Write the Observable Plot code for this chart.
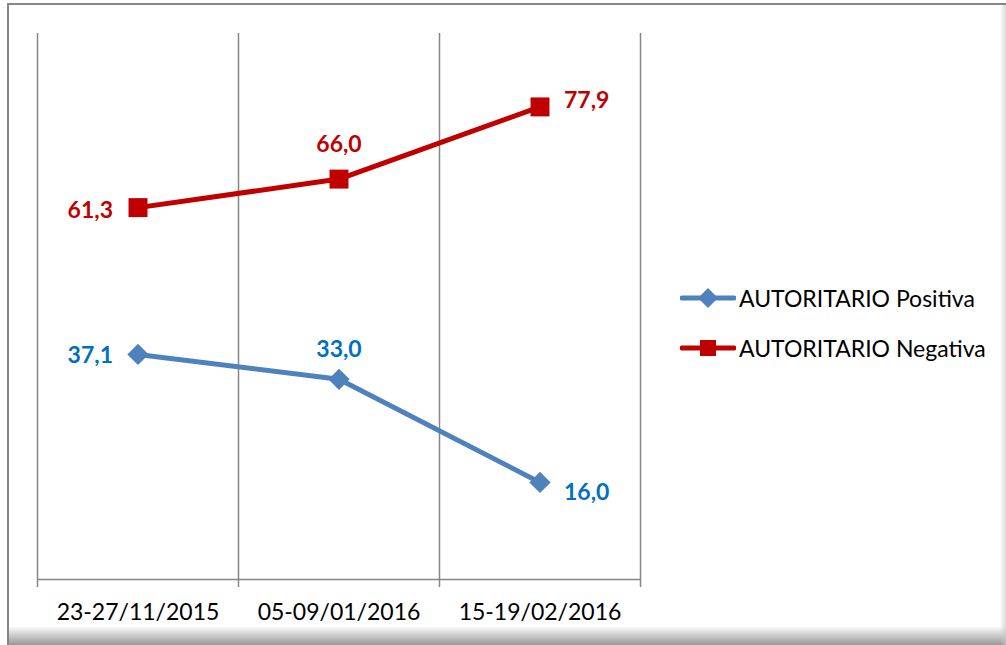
<!DOCTYPE html>
<html>
<head>
<meta charset="utf-8">
<script src="https://cdn.jsdelivr.net/npm/d3@7"></script>
<script src="https://cdn.jsdelivr.net/npm/@observablehq/plot@0.6"></script>
<style>
  html, body { margin: 0; padding: 0; background: #fff; }
  #wrap { position: relative; width: 1006px; height: 645px; overflow: hidden; font-family: Lato, "Liberation Sans", sans-serif; }
  #frame { position: absolute; left: 7px; top: 3px; right: 0; bottom: 0; border-top: 2px solid #868686; border-left: 2px solid #868686; }
  #shadowB { position: absolute; left: 9px; right: 0; top: 626px; height: 19px; background: linear-gradient(to bottom, rgba(255,255,255,0), rgba(140,140,140,0.9)); }
  #shadowR { position: absolute; top: 5px; right: 0; width: 6px; height: 640px; background: linear-gradient(to right, rgba(255,255,255,0), rgba(200,200,200,0.7)); }
  #chart { position: absolute; left: 0; top: 0; }
  #legend { position: absolute; left: 680px; top: 273px; font-size: 23px; color: #000; }
  .item { display: flex; align-items: center; height: 50px; margin-top: 0; }
  .item svg { margin-right: 3px; }
</style>
</head>
<body>
<div id="wrap">
  <div id="frame"></div>
  <div id="shadowB"></div>
  <div id="shadowR"></div>
  <div id="chart"></div>
  <div id="legend"></div>
</div>
<script>
const categories = ["23-27/11/2015", "05-09/01/2016", "15-19/02/2016"];
const seriesNames = ["AUTORITARIO Positiva", "AUTORITARIO Negativa"];
const positiva = [37.1, 33.0, 16.0];
const negativa = [61.3, 66.0, 77.9];
const lineColors = ["#4F81BD", "#C00000"];
const labelColors = ["#0070C0", "#C00000"];

const rows = [];
[positiva, negativa].forEach((vals, s) => {
  vals.forEach((v, i) => rows.push({series: seriesNames[s], s, i, pos: i + 0.5, value: v}));
});

const diamond = {
  draw(ctx, size) {
    const r = Math.sqrt(size) * 0.62625;
    ctx.moveTo(0, -r); ctx.lineTo(r, 0); ctx.lineTo(0, r); ctx.lineTo(-r, 0); ctx.closePath();
  }
};
const square = {
  draw(ctx, size) {
    const h = Math.sqrt(size) / 2;
    ctx.rect(-h, -h, 2 * h, 2 * h);
  }
};

const fmt = v => v.toFixed(1).replace(".", ",");
const labelFont = {fontFamily: "Lato, sans-serif", fontWeight: "bold", fontSize: 23};
const pick = (s, i) => rows.filter(d => d.s === s && d.i === i);

const plot = Plot.plot({
  width: 1006,
  height: 645,
  marginLeft: 37,
  marginRight: 366,
  marginTop: 33,
  marginBottom: 66,
  style: {background: "transparent", fontFamily: "Lato, sans-serif"},
  x: {type: "linear", domain: [0, categories.length], axis: null},
  y: {domain: [0, 90], axis: null},
  marks: [
    Plot.ruleX(d3.range(categories.length + 1), {y1: 0, y2: 90, stroke: "#868686", strokeWidth: 1.5}),
    Plot.ruleY([0], {stroke: "#868686", strokeWidth: 1.5}),
    Plot.axisX(d3.range(categories.length + 1), {tickSize: 8, tickFormat: () => "", stroke: "#868686", strokeWidth: 1.5, label: null}),
    Plot.axisX(categories.map((c, i) => i + 0.5), {tickSize: 0, tickPadding: 24, tickFormat: d => categories[Math.floor(d)], fontSize: 23, fill: "#000", stroke: null, label: null}),
    Plot.line(rows, {x: "pos", y: "value", z: "series", stroke: d => lineColors[d.s], strokeWidth: 5}),
    Plot.dot(rows.filter(d => d.s === 0), {x: "pos", y: "value", symbol: diamond, r: 9.6, fill: lineColors[0], stroke: null}),
    Plot.dot(rows.filter(d => d.s === 1), {x: "pos", y: "value", symbol: square, r: 10.7, fill: lineColors[1], stroke: null}),
    // left labels
    Plot.text(pick(0, 0), {x: "pos", y: "value", text: d => fmt(d.value), fill: labelColors[0], textAnchor: "end", dx: -25, dy: 1, ...labelFont}),
    Plot.text(pick(1, 0), {x: "pos", y: "value", text: d => fmt(d.value), fill: labelColors[1], textAnchor: "end", dx: -25, dy: 3, ...labelFont}),
    // top labels
    Plot.text(pick(0, 1), {x: "pos", y: "value", text: d => fmt(d.value), fill: labelColors[0], dy: -30, ...labelFont}),
    Plot.text(pick(1, 1), {x: "pos", y: "value", text: d => fmt(d.value), fill: labelColors[1], dy: -34, ...labelFont}),
    // right labels
    Plot.text(pick(0, 2), {x: "pos", y: "value", text: d => fmt(d.value), fill: labelColors[0], textAnchor: "start", dx: 24, dy: 10, ...labelFont}),
    Plot.text(pick(1, 2), {x: "pos", y: "value", text: d => fmt(d.value), fill: labelColors[1], textAnchor: "start", dx: 24, dy: -6, ...labelFont})
  ]
});
document.getElementById("chart").appendChild(plot);

const legend = document.getElementById("legend");
seriesNames.forEach((name, s) => {
  const item = document.createElement("div");
  item.className = "item";
  const sym = s === 0
    ? `<path d="M28,17 L38,27 L28,37 L18,27 Z" fill="${lineColors[0]}"/>`
    : `<rect x="20" y="19" width="16" height="16" fill="${lineColors[1]}"/>`;
  item.innerHTML = `<svg width="56" height="54"><line x1="2" x2="54" y1="27" y2="27" stroke="${lineColors[s]}" stroke-width="5" stroke-linecap="round"/>${sym}</svg><span>${name}</span>`;
  legend.appendChild(item);
});
</script>
</body>
</html>
